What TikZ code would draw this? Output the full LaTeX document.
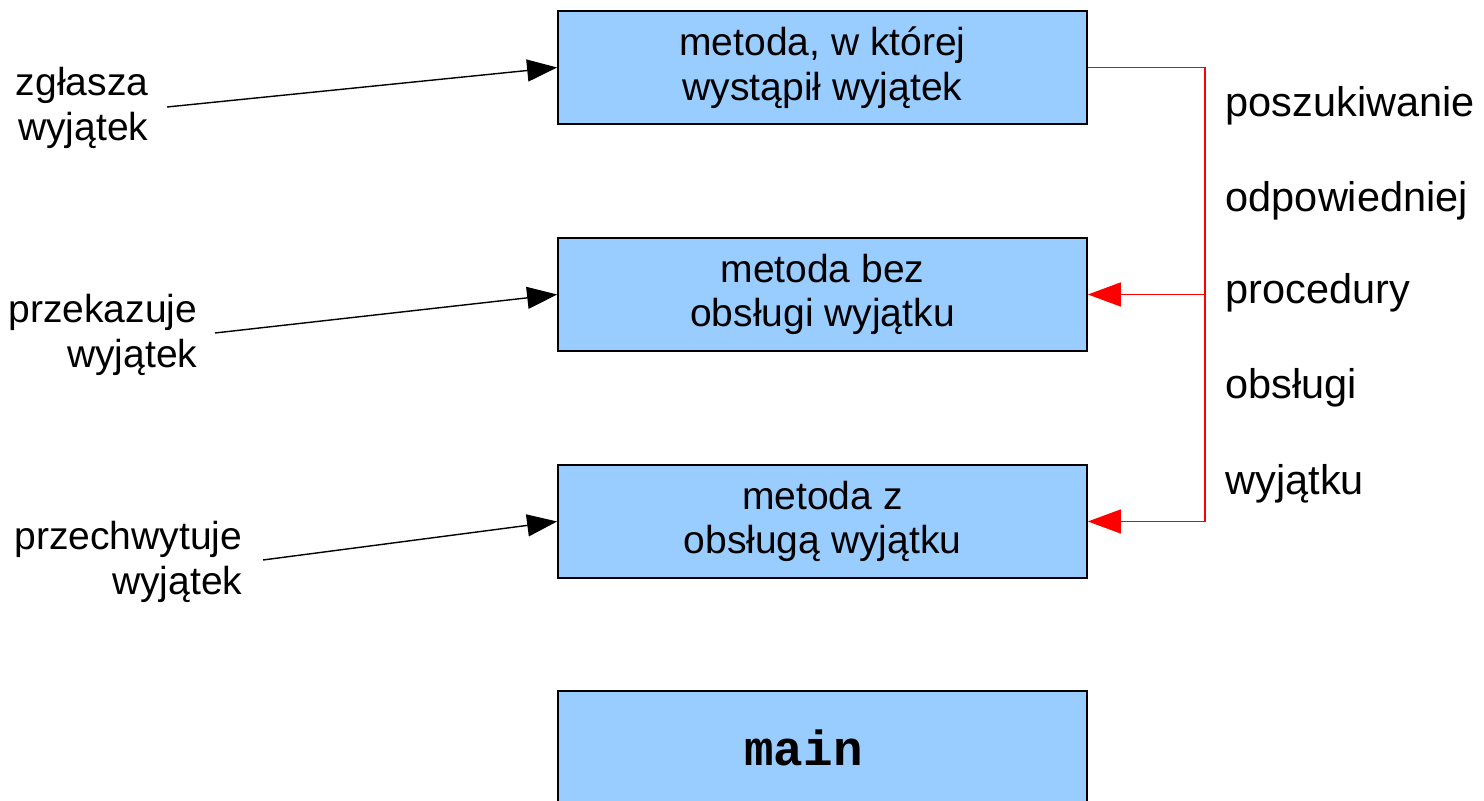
\documentclass[tikz,border=0pt]{standalone}
\usepackage{fontspec}
\setmainfont{Liberation Sans}
\setmonofont{Liberation Mono}
\usetikzlibrary{arrows.meta}

\definecolor{boxblue}{HTML}{99CCFF}
\definecolor{railred}{HTML}{FF0000}

\tikzset{
    metbox/.style={draw=black,fill=boxblue,line width=0.4pt,
        minimum width=5.29cm,minimum height=1.13cm,align=center,inner sep=0pt},
    callarrow/.style={line width=0.4pt,-{Triangle[length=0.3cm,width=0.22cm]}},
    searcharrow/.style={railred,line width=0.4pt,-{Triangle[length=0.33cm,width=0.24cm]}},
    sidelabel/.style={align=right,anchor=east,inner sep=0pt}
}

\begin{document}
\begin{tikzpicture}[x=0.01cm,y=-0.01cm,font=\fontsize{11.1}{12.7}\selectfont]
    \useasboundingbox (0,0) rectangle (1484,801);

    % stack of methods
    \node[metbox] (m1) at (822.5,67.5) {metoda, w której\\wystąpił wyjątek};
    \node[metbox] (m2) at (822.5,294.5) {metoda bez\\obsługi wyjątku};
    \node[metbox] (m3) at (822.5,521.5) {metoda z\\obsługą wyjątku};
    \node[metbox,font=\fontsize{14}{16}\selectfont\ttfamily\bfseries] (mmain) at (822.5,747.5) {main\hspace{0.38cm}};

    % labels on the left
    \node[sidelabel] (zglasza) at (149,108) {zgłasza\\wyjątek};
    \node[sidelabel] (przekazuje) at (198,335) {przekazuje\\wyjątek};
    \node[sidelabel] (przechwytuje) at (243,562) {przechwytuje\\wyjątek};
    \coordinate (z0) at (167,107);
    \coordinate (p0) at (215,333);
    \coordinate (c0) at (263,560);
    \draw[callarrow] (z0) -- (m1.west);
    \draw[callarrow] (p0) -- (m2.west);
    \draw[callarrow] (c0) -- (m3.west);

    % search for a handler
    \coordinate (rail) at (1205,0);
    \draw[searcharrow] (m1.east) -- (m1.east -| rail) -- (m3.east -| rail) -- (m3.east);
    \draw[searcharrow] (m2.east -| rail) -- (m2.east);
    \foreach \y/\word in {106/poszukiwanie,201/odpowiedniej,293/procedury,388/obsługi,484/wyjątku}
    \node[anchor=west,inner sep=0pt,font=\fontsize{11.8}{13}\selectfont] (w\y) at (1225,\y) {\word};
\end{tikzpicture}
\end{document}
